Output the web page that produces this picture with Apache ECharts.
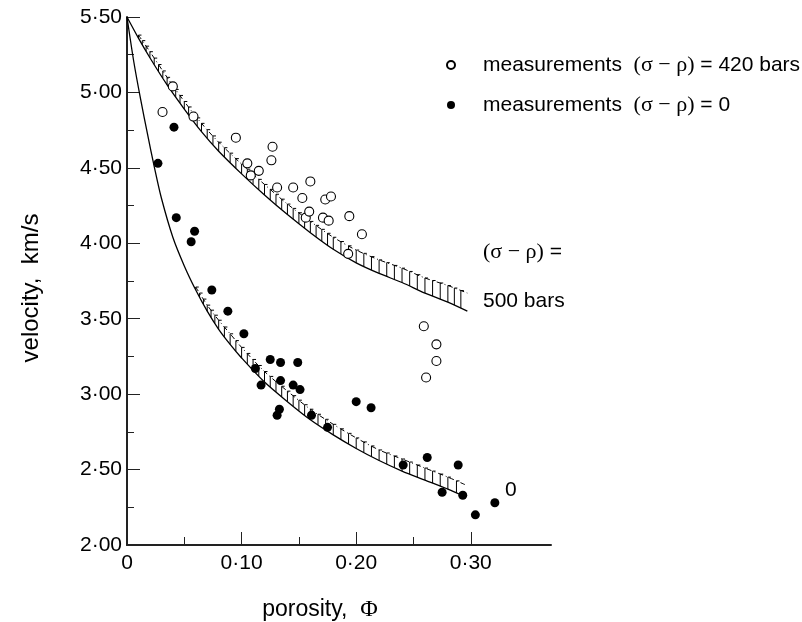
<!DOCTYPE html>
<html>
<head>
<meta charset="utf-8">
<script src="https://cdn.jsdelivr.net/npm/echarts@6/dist/echarts.min.js"></script>
<style>
  html, body { margin: 0; padding: 0; background: #fff; }
  #chart { width: 802px; height: 622px; }
</style>
</head>
<body>
<div id="chart"></div>
<script>
// measurements at (sigma - rho) = 420 bars (open circles)
const openPorosity = [0.031, 0.040, 0.058, 0.095, 0.105, 0.108, 0.115, 0.126, 0.127, 0.131, 0.145, 0.153, 0.156, 0.159, 0.160, 0.171, 0.173, 0.176, 0.178, 0.193, 0.194, 0.205, 0.259, 0.270, 0.270, 0.261];
const openVelocity = [4.87, 5.04, 4.84, 4.70, 4.53, 4.45, 4.48, 4.55, 4.64, 4.37, 4.37, 4.30, 4.17, 4.21, 4.41, 4.17, 4.29, 4.15, 4.31, 3.93, 4.18, 4.06, 3.45, 3.33, 3.22, 3.11];

// measurements at (sigma - rho) = 0 (filled dots)
const filledPorosity = [0.027, 0.041, 0.043, 0.056, 0.059, 0.074, 0.088, 0.102, 0.112, 0.117, 0.125, 0.134, 0.134, 0.149, 0.145, 0.151, 0.133, 0.131, 0.161, 0.175, 0.200, 0.213, 0.241, 0.262, 0.289, 0.275, 0.293, 0.304, 0.321];
const filledVelocity = [4.53, 4.77, 4.17, 4.01, 4.08, 3.69, 3.55, 3.40, 3.17, 3.06, 3.23, 3.21, 3.09, 3.21, 3.06, 3.03, 2.90, 2.86, 2.86, 2.78, 2.95, 2.91, 2.53, 2.58, 2.53, 2.35, 2.33, 2.20, 2.28];

// theoretical curve, 500 bars, and top edge of its hatched band
const curve500Porosity = [0, 0.010, 0.020, 0.035, 0.050, 0.065, 0.080, 0.100, 0.120, 0.140, 0.160, 0.180, 0.200, 0.220, 0.240, 0.260, 0.280, 0.297];
const curve500Velocity = [5.50, 5.36, 5.23, 5.05, 4.89, 4.74, 4.61, 4.46, 4.32, 4.19, 4.07, 3.96, 3.87, 3.80, 3.74, 3.67, 3.61, 3.55];
const band500Top = [null, 5.38, 5.27, 5.10, 4.94, 4.795, 4.67, 4.525, 4.39, 4.26, 4.145, 4.04, 3.955, 3.89, 3.835, 3.77, 3.72, 3.67];

// theoretical curve, 0 bars, and top edge of its hatched band
const curve0Porosity = [0, 0.006, 0.012, 0.018, 0.024, 0.030, 0.040, 0.050, 0.060, 0.070, 0.080, 0.090, 0.100, 0.120, 0.140, 0.160, 0.180, 0.200, 0.220, 0.240, 0.260, 0.280, 0.295];
const curve0Velocity = [5.50, 5.20, 4.95, 4.72, 4.50, 4.30, 4.04, 3.85, 3.69, 3.55, 3.43, 3.33, 3.24, 3.08, 2.95, 2.83, 2.73, 2.64, 2.56, 2.49, 2.43, 2.37, 2.32];
const band0Top = [null, null, null, null, null, null, null, null, 3.71, 3.59, 3.49, 3.40, 3.31, 3.15, 3.02, 2.90, 2.80, 2.71, 2.63, 2.57, 2.51, 2.45, 2.40];

const xMajorTicks = [0, 0.1, 0.2, 0.3];
const xMinorTicks = [0.05, 0.15, 0.25];

const ink = '#000';
const sans = '"Liberation Sans", Arial, sans-serif';
const serif = '"Liberation Serif", "Times New Roman", serif';

function dotLabel(v) {
  if (v === 0) return '0';
  return v.toFixed(2).replace('.', '·');
}

function pairs(xs, ys) {
  return xs.map((x, i) => [x, ys[i]]);
}

// segments [x0, low0, top0, x1, low1, top1] of a hatched band
function bandSegments(xs, lows, tops) {
  const out = [];
  for (let i = 0; i < xs.length - 1; i++) {
    if (tops[i] == null || tops[i + 1] == null) continue;
    out.push([xs[i], lows[i], tops[i], xs[i + 1], lows[i + 1], tops[i + 1]]);
  }
  return out;
}

function renderHatch(params, api) {
  const a = api.coord([api.value(0), api.value(1)]);
  const at = api.coord([api.value(0), api.value(2)]);
  const b = api.coord([api.value(3), api.value(4)]);
  const bt = api.coord([api.value(3), api.value(5)]);
  const len = Math.hypot(b[0] - a[0], b[1] - a[1]);
  const n = Math.max(1, Math.round(len / 8));
  const children = [];
  for (let k = 0; k < n; k++) {
    const t = k / n;
    const x1 = a[0] + (b[0] - a[0]) * t, y1 = a[1] + (b[1] - a[1]) * t;
    const x2 = at[0] + (bt[0] - at[0]) * t, y2 = at[1] + (bt[1] - at[1]) * t;
    children.push({
      type: 'line',
      shape: { x1: x1, y1: y1, x2: x2, y2: y2 },
      style: { stroke: ink, lineWidth: 1 }
    });
    children.push({
      type: 'line',
      shape: { x1: x2, y1: y2, x2: x2 + 3, y2: y2 },
      style: { stroke: ink, lineWidth: 1 }
    });
  }
  return { type: 'group', children: children };
}

const chart = echarts.init(document.getElementById('chart'));

const axisLine = { show: true, lineStyle: { color: '#222', width: 2 } };
const labelStyle = { color: ink, fontFamily: sans, fontSize: 21 };

const option = {
  animation: false,
  backgroundColor: '#fff',
  grid: { left: 127, top: 17, right: 251, bottom: 77, outerBoundsMode: 'none', containLabel: false },
  legend: {
    data: ['open', 'filled'],
    orient: 'vertical',
    left: 441,
    top: 49,
    itemWidth: 8,
    itemHeight: 8,
    itemGap: 18,
    selectedMode: false,
    formatter: function (name) {
      if (name === 'open') return '{a|measurements  }{s|(σ − ρ)}{a| = 420 bars}';
      return '{a|measurements  }{s|(σ − ρ)}{a| = 0}';
    },
    textStyle: {
      padding: [0, 0, 0, 23],
      rich: {
        a: { fontFamily: sans, fontSize: 21, color: ink },
        s: { fontFamily: serif, fontSize: 22, color: ink }
      }
    }
  },
  xAxis: [
    {
      type: 'value',
      min: 0,
      max: 0.37,
      interval: 0.1,
      position: 'bottom',
      name: '{a|porosity,  }{b|Φ}',
      nameLocation: 'middle',
      nameGap: 53,
      nameTextStyle: {
        padding: [0, 38, 0, 0],
        rich: {
          a: { fontFamily: sans, fontSize: 23, color: ink },
          b: { fontFamily: serif, fontSize: 24, color: ink }
        }
      },
      axisLine: axisLine,
      axisTick: { show: true, inside: true, length: 13, customValues: xMajorTicks, lineStyle: { color: '#222' } },
      axisLabel: { customValues: xMajorTicks, formatter: dotLabel, margin: 8, ...labelStyle },
      splitLine: { show: false }
    },
    {
      type: 'value',
      min: 0,
      max: 0.37,
      position: 'bottom',
      offset: 0,
      axisLine: { show: false },
      axisTick: { show: true, inside: true, length: 8, customValues: xMinorTicks, lineStyle: { color: '#222' } },
      axisLabel: { show: false },
      splitLine: { show: false }
    }
  ],
  yAxis: {
    type: 'value',
    min: 2,
    max: 5.5,
    interval: 0.5,
    name: 'velocity,  km/s',
    nameLocation: 'middle',
    nameGap: 84,
    nameTextStyle: { fontFamily: sans, fontSize: 24, color: ink, padding: [0, 14, 0, 0] },
    axisLine: axisLine,
    axisTick: { show: true, inside: true, length: 13, lineStyle: { color: '#222' } },
    minorTick: { show: true, splitNumber: 2, length: 7, lineStyle: { color: '#222' } },
    axisLabel: { formatter: dotLabel, margin: 5, ...labelStyle },
    splitLine: { show: false }
  },
  series: [
    {
      name: 'curve500',
      type: 'line',
      data: pairs(curve500Porosity, curve500Velocity),
      smooth: 0.3,
      symbol: 'none',
      lineStyle: { color: ink, width: 1.3 },
      z: 2
    },
    {
      name: 'curve0',
      type: 'line',
      data: pairs(curve0Porosity, curve0Velocity),
      smooth: 0.3,
      symbol: 'none',
      lineStyle: { color: ink, width: 1.3 },
      z: 2
    },
    {
      name: 'top500',
      type: 'line',
      data: pairs(curve500Porosity, band500Top).filter(p => p[1] != null),
      smooth: 0.3,
      symbol: 'none',
      lineStyle: { color: ink, width: 1, type: [5, 3, 1, 3] },
      z: 2
    },
    {
      name: 'top0',
      type: 'line',
      data: pairs(curve0Porosity, band0Top).filter(p => p[1] != null),
      smooth: 0.3,
      symbol: 'none',
      lineStyle: { color: ink, width: 1, type: [5, 3, 1, 3] },
      z: 2
    },
    {
      name: 'hatch500',
      type: 'custom',
      renderItem: renderHatch,
      data: bandSegments(curve500Porosity, curve500Velocity, band500Top),
      encode: { x: [0, 3], y: [1, 2, 4, 5] },
      clip: false,
      silent: true,
      z: 2
    },
    {
      name: 'hatch0',
      type: 'custom',
      renderItem: renderHatch,
      data: bandSegments(curve0Porosity, curve0Velocity, band0Top),
      encode: { x: [0, 3], y: [1, 2, 4, 5] },
      clip: false,
      silent: true,
      z: 2
    },
    {
      name: 'open',
      type: 'scatter',
      data: pairs(openPorosity, openVelocity),
      symbol: 'circle',
      symbolSize: 9,
      itemStyle: { color: '#fff', borderColor: ink, borderWidth: 1.1, opacity: 1 },
      z: 5
    },
    {
      name: 'filled',
      type: 'scatter',
      data: pairs(filledPorosity, filledVelocity),
      symbol: 'circle',
      symbolSize: 9,
      itemStyle: { color: ink, opacity: 1 },
      z: 5
    }
  ],
  graphic: [
    {
      type: 'text',
      left: 483,
      top: 241,
      style: {
        text: '{s|(σ − ρ)}{a| =}',
        rich: {
          a: { fontFamily: sans, fontSize: 21, fill: ink },
          s: { fontFamily: serif, fontSize: 22, fill: ink }
        }
      }
    },
    {
      type: 'text',
      left: 483,
      top: 291,
      style: { text: '500 bars', font: '21px ' + sans, fill: ink }
    },
    {
      type: 'text',
      left: 505,
      top: 480,
      style: { text: '0', font: '21px ' + sans, fill: ink }
    }
  ]
};

chart.setOption(option);
</script>
</body>
</html>
